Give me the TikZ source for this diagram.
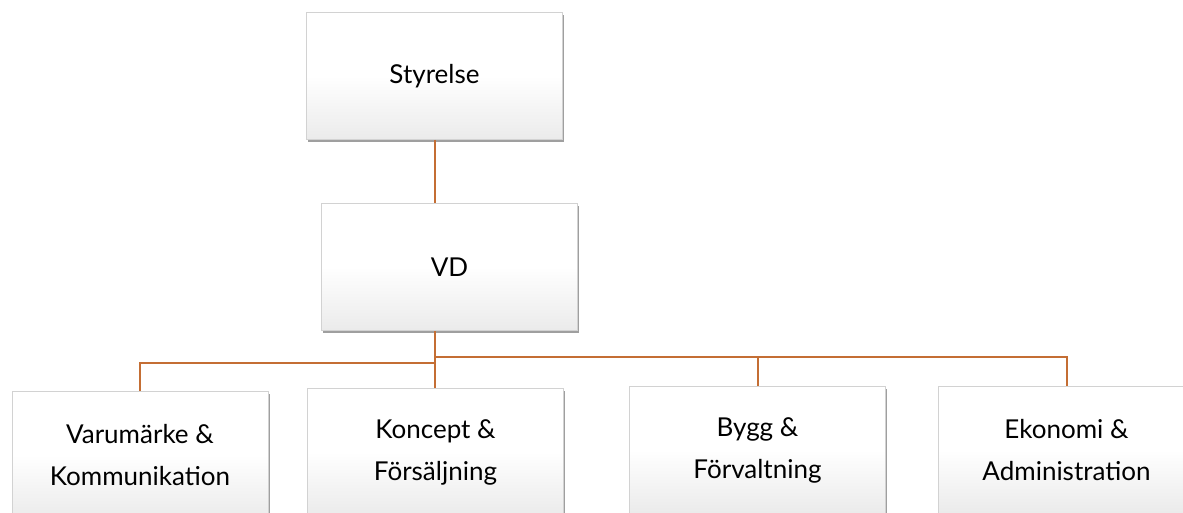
\documentclass[tikz,border=0pt]{standalone}
\usepackage{fontspec}
\setmainfont{Lato}
\usetikzlibrary{shadows,calc}
\definecolor{lc}{RGB}{196,110,52}
\begin{document}
\begin{tikzpicture}[x=1pt,y=1pt,
  box/.style={draw=gray!35, line width=0.6pt, minimum width=256pt, minimum height=127pt,
    inner sep=0pt, align=center, font=\fontsize{26}{42}\selectfont,
    top color=white, bottom color=gray!16, middle color=white, shading angle=0,
    drop shadow={shadow xshift=1.5pt, shadow yshift=-2.5pt, opacity=0.5, fill=black!75}},
  conn/.style={draw=lc, line width=2pt}]
\clip (0,0) rectangle (1183,513);
\fill[white] (0,0) rectangle (1183,513);
\node[box] (sty) at (434.5,437) {Styrelse};
\node[box] (vd) at (449.5,246) {VD};
\node[box] (v1) at (140,58) {Varumärke \&\\Kommunikation};
\node[box] (v2) at (435.5,61) {Koncept \&\\Försäljning};
\node[box] (v3) at (757.5,63) {Bygg \&\\Förvaltning};
\node[box] (v4) at (1066.5,63) {Ekonomi \&\\Administration};
\coordinate (jl) at (435,150);
\coordinate (jr) at (435,156);
\draw[conn] (sty.south) -- (sty.south |- vd.north);
\draw[conn] (vd.south -| sty.south) -- (sty.south |- v2.north);
\draw[conn] (jl) -| (v1.north);
\draw[conn] (jr) -| (v3.north);
\draw[conn] (jr) -| (v4.north);
\end{tikzpicture}
\end{document}
